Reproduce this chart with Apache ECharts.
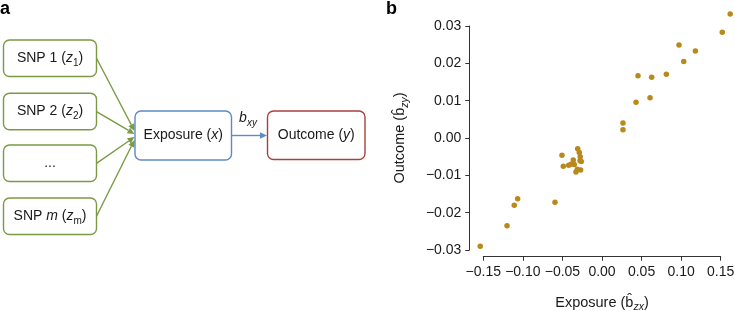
<!DOCTYPE html>
<html><head><meta charset="utf-8">
<script src="https://cdn.jsdelivr.net/npm/echarts@6/dist/echarts.min.js"></script>
<style>html,body{margin:0;padding:0;background:#fff}#c{width:735px;height:311px}</style>
</head><body><div id="c"></div>
<script>
// ---- data (panel b) ----
const exposure = [0.162, 0.152, 0.0973, 0.118, 0.1033, 0.0813, 0.0628, 0.0455, 0.0607, 0.043, 0.0265, 0.0265,
  -0.0506, -0.0307, -0.0287, -0.0275, -0.0278, -0.0262, -0.0363, -0.0392, -0.0421, -0.0489, -0.0329, -0.0312, -0.0270, -0.0350,
  -0.0594, -0.1066, -0.1109, -0.1200, -0.1539];
const outcome = [0.0332, 0.0283, 0.0249, 0.0233, 0.0205, 0.0171, 0.0163, 0.0167, 0.0108, 0.0096, 0.0040, 0.0022,
  -0.0046, -0.0029, -0.0039, -0.0050, -0.0061, -0.0063, -0.0059, -0.0070, -0.0073, -0.0076, -0.0091, -0.0084, -0.0086, -0.0071,
  -0.0172, -0.0163, -0.0180, -0.0235, -0.0290];
const xTicks = {min: -0.15, max: 0.15, interval: 0.05};
const yTicks = {min: -0.03, max: 0.03, interval: 0.01};
// ---- diagram text (panel a) ----
const snpLabels = ['{n|SNP 1 (}{i|z}{s|1}{n|)}', '{n|SNP 2 (}{i|z}{s|2}{n|)}', '{n|...}', '{n|SNP }{i|m}{n| (}{i|z}{s|m}{n|)}'];
const exposureLabel = '{n|Exposure (}{i|x}{n|)}';
const outcomeLabel = '{n|Outcome (}{i|y}{n|)}';
const effectLabel = '{i|b}{si|xy}';

const FF = '"Liberation Sans", Arial, Helvetica, sans-serif';
const TXT = '#1a1a1a';
const rich = {
  n: {fontSize: 14, fontFamily: FF, fill: TXT, color: TXT, lineHeight: 20},
  i: {fontSize: 14, fontFamily: FF, fill: TXT, color: TXT, fontStyle: 'italic', lineHeight: 20},
  s: {fontSize: 10, fontFamily: FF, fill: TXT, color: TXT, lineHeight: 13, verticalAlign: 'bottom'},
  si: {fontSize: 10, fontFamily: FF, fill: TXT, color: TXT, fontStyle: 'italic', lineHeight: 13, verticalAlign: 'bottom'}
};

const GREEN = '#7b9a44', BLUE = '#5b8cc6', RED = '#a8403f';
const graphics = [];
function box(x, y, w, h, color, label) {
  graphics.push({type: 'rect', shape: {x: x, y: y, width: w, height: h, r: 6},
    style: {fill: '#fff', stroke: color, lineWidth: 1.4}, z: 10});
  graphics.push({type: 'text', x: x + w / 2, y: y + h / 2, z: 11,
    style: {text: label, rich: rich, align: 'center', verticalAlign: 'middle', font: '14px ' + FF, fill: TXT}});
}
function arrow(x1, y1, x2, y2, color) {
  const dx = x2 - x1, dy = y2 - y1, L = Math.hypot(dx, dy), ux = dx / L, uy = dy / L;
  const hl = 7, hw = 3.2;
  const bx = x2 - ux * hl, by = y2 - uy * hl;
  graphics.push({type: 'line', shape: {x1: x1, y1: y1, x2: bx, y2: by}, style: {stroke: color, lineWidth: 1.4}, z: 5});
  graphics.push({type: 'polygon', shape: {points: [[x2, y2], [bx - uy * hw, by + ux * hw], [bx + uy * hw, by - ux * hw]]},
    style: {fill: color}, z: 6});
}
const snpTop = [40, 93.3, 145, 198];
const targets = [131, 134, 137, 140];
snpLabels.forEach((lab, k) => {
  box(3.5, snpTop[k], 93, 36.5, GREEN, lab);
  arrow(96.5, snpTop[k] + 18.3, 134.5, targets[k], GREEN);
});
box(135, 111, 96.5, 49, BLUE, exposureLabel);
box(267.5, 111, 97.5, 48.5, RED, outcomeLabel);
arrow(231.5, 135.5, 267, 135.5, BLUE);
graphics.push({type: 'text', x: 248, y: 118, style: {text: effectLabel, rich: rich, align: 'center', verticalAlign: 'middle', font: '14px ' + FF}});
graphics.push({type: 'text', x: 0, y: 9, style: {text: 'a', font: 'bold 18px ' + FF, fill: '#000', verticalAlign: 'middle', align: 'left'}});
graphics.push({type: 'text', x: 386, y: 9, style: {text: 'b', font: 'bold 18px ' + FF, fill: '#000', verticalAlign: 'middle', align: 'left'}});

function fmt(v, d) {
  const s = Math.abs(v) < 1e-9 ? (0).toFixed(d) : Math.abs(v).toFixed(d);
  return (v < -1e-9 ? '\u2212' : '') + s;
}
const axisCommon = {
  axisLine: {show: true, onZero: false, lineStyle: {color: '#333', width: 1}},
  axisTick: {show: true, inside: false, length: 4, lineStyle: {color: '#333'}},
  splitLine: {show: false},
  nameTextStyle: {rich: {
    n: {fontSize: 14.5, fontFamily: FF, color: TXT, lineHeight: 20},
    h: {fontSize: 14.5, fontFamily: FF, color: TXT, lineHeight: 20},
    si: {fontSize: 10.5, fontFamily: FF, color: TXT, fontStyle: 'italic', lineHeight: 13, verticalAlign: 'bottom'}
  }}
};
const chart = echarts.init(document.getElementById('c'), null, {renderer: 'canvas'});
chart.setOption({
  animation: false,
  backgroundColor: '#fff',
  textStyle: {fontFamily: FF},
  graphic: graphics,
  grid: {left: 483.3, top: 26, width: 237.4, height: 224, containLabel: false, outerBoundsMode: 'none'},
  xAxis: Object.assign({}, axisCommon, {
    type: 'value', min: xTicks.min, max: xTicks.max, interval: xTicks.interval, offset: 6.7,
    axisLabel: {fontSize: 14, color: TXT, margin: 8, formatter: v => fmt(v, 2), showMinLabel: true, showMaxLabel: true},
    name: '{n|Exposure (}{h|b\u0302}{si|zx}{n|)}', nameLocation: 'middle', nameGap: 36
  }),
  yAxis: Object.assign({}, axisCommon, {
    type: 'value', min: yTicks.min, max: yTicks.max, interval: yTicks.interval, offset: 14,
    axisLabel: {fontSize: 14, color: TXT, margin: 8, formatter: v => fmt(v, 2)},
    name: '{n|Outcome (}{h|b\u0302}{si|zy}{n|)}', nameLocation: 'middle', nameGap: 59
  }),
  series: [{
    type: 'scatter', clip: false, symbol: 'circle', symbolSize: 5.5,
    itemStyle: {color: '#b8891c', opacity: 1},
    data: exposure.map((x, i) => [x, outcome[i]])
  }]
});
</script></body></html>
